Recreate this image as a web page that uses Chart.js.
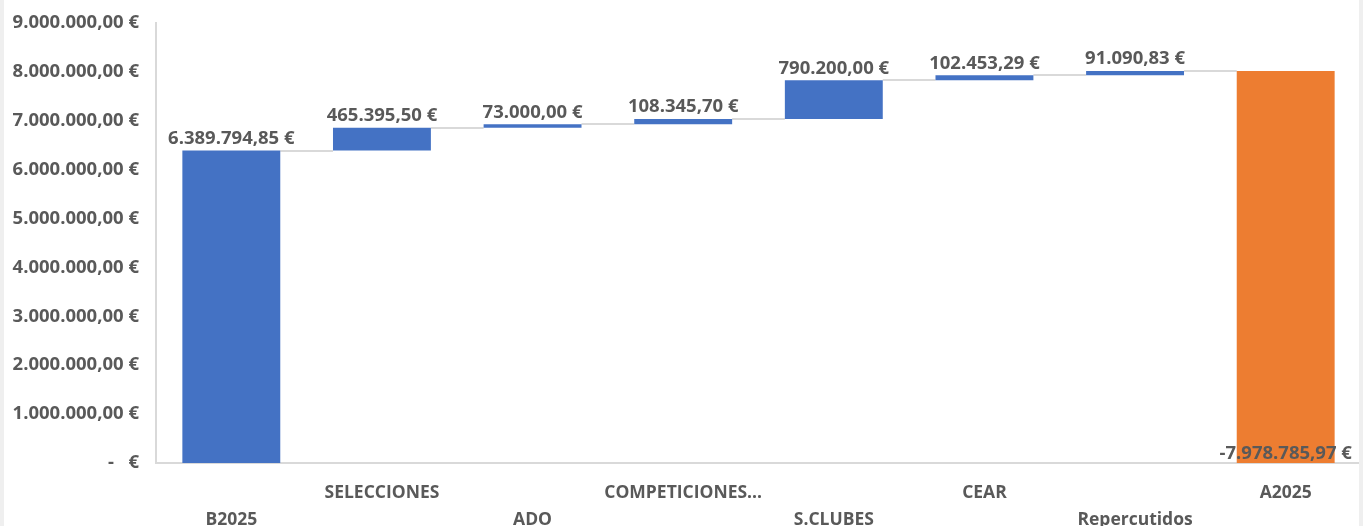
<!DOCTYPE html>
<html>
<head>
<meta charset="utf-8">
<script src="https://cdn.jsdelivr.net/npm/chart.js@4/dist/chart.umd.min.js"></script>
<style>
  html, body { margin: 0; padding: 0; background: #efefef; overflow: hidden; }
  #wrap { position: absolute; left: 4px; top: 0; width: 1359px; height: 526px; background: #fff; }
  #edge { position: absolute; left: 1359px; top: 0; width: 4px; height: 526px; background: #efefef; }
</style>
</head>
<body>
<div id="wrap"><canvas id="chart"></canvas></div>
<div id="edge"></div>
<script>
const categories = ["B2025", "SELECCIONES", "ADO", "COMPETICIONES...", "S.CLUBES", "CEAR", "Repercutidos", "A2025"];
// step values
const steps = [6389794.85, 465395.50, 73000.00, 108345.70, 790200.00, 102453.29, 91090.83];
// final bar height as drawn, and its label text value
const finalValue = 8020280.17;
const finalLabel = -7978785.97;
const yTicks = [0, 1000000, 2000000, 3000000, 4000000, 5000000, 6000000, 7000000, 8000000, 9000000];

const textColor = "#595959";
const fontFamily = "'Open Sans', sans-serif";

function euro(v) {
  const neg = v < 0;
  const parts = Math.abs(v).toFixed(2).split(".");
  const intPart = parts[0].replace(/\B(?=(\d{3})+(?!\d))/g, ".");
  return (neg ? "-" : "") + intPart + "," + parts[1] + " €";
}

// build floating ranges for the waterfall
const ranges = [];
const labelsText = [];
let running = 0;
steps.forEach(function (s) {
  ranges.push([running, running + s]);
  running += s;
  labelsText.push(euro(s));
});
ranges.push([0, finalValue]);
labelsText.push(euro(finalLabel));

const colors = categories.map(function (c, i) {
  return i === categories.length - 1 ? "#ED7D31" : "#4472C4";
});

// two rows of category labels, staggered
const xLabels = categories.map(function (c, i) {
  return i % 2 === 0 ? ["", c] : [c, ""];
});

const connectors = {
  id: "connectors",
  beforeDatasetsDraw(chart) {
    const ctx = chart.ctx;
    const bars = chart.getDatasetMeta(0).data;
    const y = chart.scales.y;
    ctx.save();
    ctx.strokeStyle = "#d9d9d9";
    ctx.lineWidth = 2;
    for (let i = 0; i < bars.length - 1; i++) {
      const py = Math.round(y.getPixelForValue(ranges[i][1]));
      ctx.beginPath();
      ctx.moveTo(bars[i].x + bars[i].width / 2, py);
      ctx.lineTo(bars[i + 1].x - bars[i + 1].width / 2, py);
      ctx.stroke();
    }
    ctx.restore();
  }
};

const barLabels = {
  id: "barLabels",
  afterDatasetsDraw(chart) {
    const ctx = chart.ctx;
    const bars = chart.getDatasetMeta(0).data;
    ctx.save();
    ctx.font = "bold 18.5px " + fontFamily;
    ctx.fillStyle = textColor;
    ctx.textAlign = "center";
    ctx.textBaseline = "middle";
    bars.forEach(function (b, i) {
      const top = Math.min(b.y, b.base);
      const bottom = Math.max(b.y, b.base);
      if (i === bars.length - 1) {
        ctx.fillText(labelsText[i], b.x, bottom - 9);
      } else {
        ctx.fillText(labelsText[i], b.x, top - 12);
      }
    });
    ctx.restore();
  }
};

new Chart(document.getElementById("chart"), {
  type: "bar",
  data: {
    labels: xLabels,
    datasets: [{
      data: ranges,
      backgroundColor: colors,
      borderWidth: 0,
      barPercentage: 0.65,
      categoryPercentage: 1
    }]
  },
  options: {
    responsive: true,
    maintainAspectRatio: false,
    animation: false,
    layout: { padding: { top: 23, right: 2, left: 0, bottom: 0 } },
    plugins: {
      legend: { display: false },
      tooltip: { enabled: false }
    },
    scales: {
      x: {
        grid: { display: false, drawTicks: false },
        border: { display: true, color: "#d9d9d9", width: 2 },
        ticks: {
          autoSkip: false,
          maxRotation: 0,
          minRotation: 0,
          padding: 16,
          color: textColor,
          font: { family: fontFamily, size: 17.5, weight: "bold", lineHeight: 1.55 }
        },
        afterFit(scale) { scale.height = 63; }
      },
      y: {
        min: 0,
        max: 9000000,
        afterBuildTicks(scale) {
          scale.ticks = yTicks.map(function (v) { return { value: v }; });
        },
        grid: { display: false, drawTicks: false },
        border: { display: true, color: "#d9d9d9", width: 2 },
        ticks: {
          padding: 17,
          color: textColor,
          font: { family: fontFamily, size: 18.5, weight: "bold" },
          callback(v) { return v === 0 ? "-   €" : euro(v); }
        },
        afterFit(scale) {
          scale.width = 152;
          scale.paddingTop = 0;
          scale.paddingBottom = 0;
        }
      }
    }
  },
  plugins: [connectors, barLabels]
});
</script>
</body>
</html>
